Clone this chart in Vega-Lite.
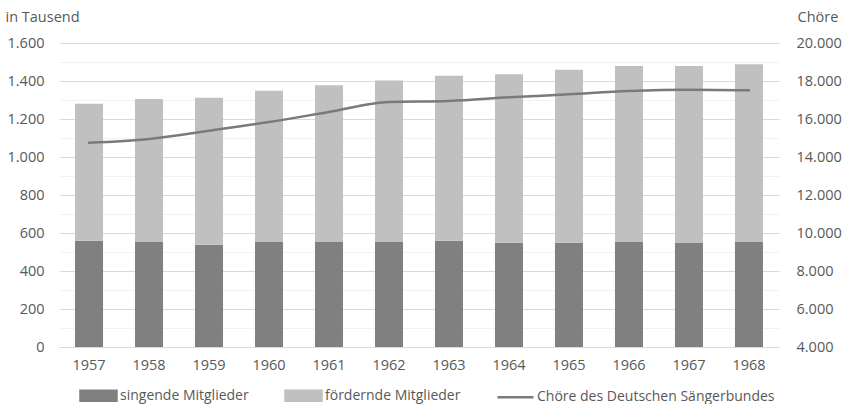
{
  "$schema": "https://vega.github.io/schema/vega-lite/v6.json",
  "autosize": "none",
  "width": 720,
  "height": 304,
  "padding": {"left": 59, "top": 43, "right": 66, "bottom": 57},
  "background": "white",
  "config": {
    "locale": {"number": {"decimal": ",", "thousands": ".", "grouping": [3], "currency": ["", " €"]}},
    "font": "Open Sans",
    "view": {"stroke": null},
    "axis": {"labelFont": "Open Sans", "labelFontSize": 14.5, "labelColor": "#595959", "titleFont": "Open Sans", "titleFontSize": 14.5, "titleColor": "#595959", "titleFontWeight": "normal", "ticks": false, "domain": false},
    "legend": {"labelFont": "Open Sans", "labelFontSize": 14, "labelColor": "#595959", "labelLimit": 0}
  },
  "datasets": {
    "members": [
      {"year": "1957", "series": "singende Mitglieder", "value": 559},
      {"year": "1957", "series": "fördernde Mitglieder", "value": 721},
      {"year": "1958", "series": "singende Mitglieder", "value": 553},
      {"year": "1958", "series": "fördernde Mitglieder", "value": 752},
      {"year": "1959", "series": "singende Mitglieder", "value": 538},
      {"year": "1959", "series": "fördernde Mitglieder", "value": 774},
      {"year": "1960", "series": "singende Mitglieder", "value": 553},
      {"year": "1960", "series": "fördernde Mitglieder", "value": 796},
      {"year": "1961", "series": "singende Mitglieder", "value": 553},
      {"year": "1961", "series": "fördernde Mitglieder", "value": 825},
      {"year": "1962", "series": "singende Mitglieder", "value": 553},
      {"year": "1962", "series": "fördernde Mitglieder", "value": 849},
      {"year": "1963", "series": "singende Mitglieder", "value": 559},
      {"year": "1963", "series": "fördernde Mitglieder", "value": 869},
      {"year": "1964", "series": "singende Mitglieder", "value": 549},
      {"year": "1964", "series": "fördernde Mitglieder", "value": 886},
      {"year": "1965", "series": "singende Mitglieder", "value": 549},
      {"year": "1965", "series": "fördernde Mitglieder", "value": 910},
      {"year": "1966", "series": "singende Mitglieder", "value": 553},
      {"year": "1966", "series": "fördernde Mitglieder", "value": 926},
      {"year": "1967", "series": "singende Mitglieder", "value": 547},
      {"year": "1967", "series": "fördernde Mitglieder", "value": 932},
      {"year": "1968", "series": "singende Mitglieder", "value": 553},
      {"year": "1968", "series": "fördernde Mitglieder", "value": 935}
    ],
    "choirs": [
      {"year": "1957", "series": "Chöre des Deutschen Sängerbundes", "choirs": 14750},
      {"year": "1958", "series": "Chöre des Deutschen Sängerbundes", "choirs": 14950},
      {"year": "1959", "series": "Chöre des Deutschen Sängerbundes", "choirs": 15380},
      {"year": "1960", "series": "Chöre des Deutschen Sängerbundes", "choirs": 15840},
      {"year": "1961", "series": "Chöre des Deutschen Sängerbundes", "choirs": 16370},
      {"year": "1962", "series": "Chöre des Deutschen Sängerbundes", "choirs": 16900},
      {"year": "1963", "series": "Chöre des Deutschen Sängerbundes", "choirs": 16950},
      {"year": "1964", "series": "Chöre des Deutschen Sängerbundes", "choirs": 17140},
      {"year": "1965", "series": "Chöre des Deutschen Sängerbundes", "choirs": 17300},
      {"year": "1966", "series": "Chöre des Deutschen Sängerbundes", "choirs": 17470},
      {"year": "1967", "series": "Chöre des Deutschen Sängerbundes", "choirs": 17540},
      {"year": "1968", "series": "Chöre des Deutschen Sängerbundes", "choirs": 17510}
    ]
  },
  "encoding": {
    "x": {
      "field": "year", "type": "nominal",
      "scale": {"paddingInner": 0.533, "paddingOuter": 0.267},
      "axis": {"title": null, "labelAngle": 0, "labelPadding": 11, "domain": true, "domainColor": "#d9d9d9", "domainWidth": 1}
    }
  },
  "layer": [
    {
      "data": {"name": "members"},
      "mark": {"type": "bar"},
      "encoding": {
        "y": {
          "field": "value", "type": "quantitative", "stack": "zero",
          "scale": {"domain": [0, 1600], "nice": false},
          "axis": {
            "title": "in Tausend", "titleAngle": 0, "titleAlign": "left", "titleBaseline": "alphabetic", "titleX": -54, "titleY": -22,
            "values": [0, 100, 200, 300, 400, 500, 600, 700, 800, 900, 1000, 1100, 1200, 1300, 1400, 1500, 1600],
            "format": ",d",
            "labelExpr": "datum.value % 200 === 0 ? datum.label : ''",
            "labelPadding": 15,
            "grid": true,
            "gridColor": {"condition": {"test": "datum.value % 200 === 0", "value": "#d9d9d9"}, "value": "#f2f2f2"},
            "gridWidth": 1
          }
        },
        "color": {
          "field": "series", "type": "nominal",
          "sort": ["singende Mitglieder", "fördernde Mitglieder", "Chöre des Deutschen Sängerbundes"],
          "scale": {"domain": ["singende Mitglieder", "fördernde Mitglieder", "Chöre des Deutschen Sängerbundes"], "range": ["#808080", "#c0c0c0", "#7a7a7a"]},
          "legend": {
            "title": null, "orient": "none", "direction": "horizontal", "legendX": 20, "legendY": 333,
            "symbolSize": 1296, "labelOffset": 2, "columnPadding": 31,
            "encode": {
              "symbols": {"update": {
                "shape": {"signal": "datum.value === 'Chöre des Deutschen Sängerbundes' ? 'M-1,0H1' : 'M-1,-0.28H1V0.28H-1Z'"},
                "fill": {"signal": "datum.value === 'Chöre des Deutschen Sängerbundes' ? 'transparent' : (datum.value === 'singende Mitglieder' ? '#808080' : '#c0c0c0')"},
                "stroke": {"signal": "datum.value === 'Chöre des Deutschen Sängerbundes' ? '#7a7a7a' : 'transparent'"},
                "strokeWidth": {"value": 2.5},
                "opacity": {"value": 1}
              }}
            }
          }
        }
      }
    },
    {
      "data": {"name": "choirs"},
      "mark": {"type": "line", "strokeWidth": 2.5, "interpolate": "monotone", "strokeCap": "round"},
      "encoding": {
        "y": {
          "field": "choirs", "type": "quantitative",
          "scale": {"domain": [4000, 20000], "nice": false},
          "axis": {
            "title": "Chöre", "titleAngle": 0, "titleAlign": "left", "titleBaseline": "alphabetic", "titleX": 18, "titleY": -22,
            "values": [4000, 6000, 8000, 10000, 12000, 14000, 16000, 18000, 20000],
            "format": ",d", "labelPadding": 17, "grid": false, "orient": "right"
          }
        },
        "color": {"field": "series", "type": "nominal"}
      }
    }
  ],
  "resolve": {"scale": {"y": "independent"}}
}
